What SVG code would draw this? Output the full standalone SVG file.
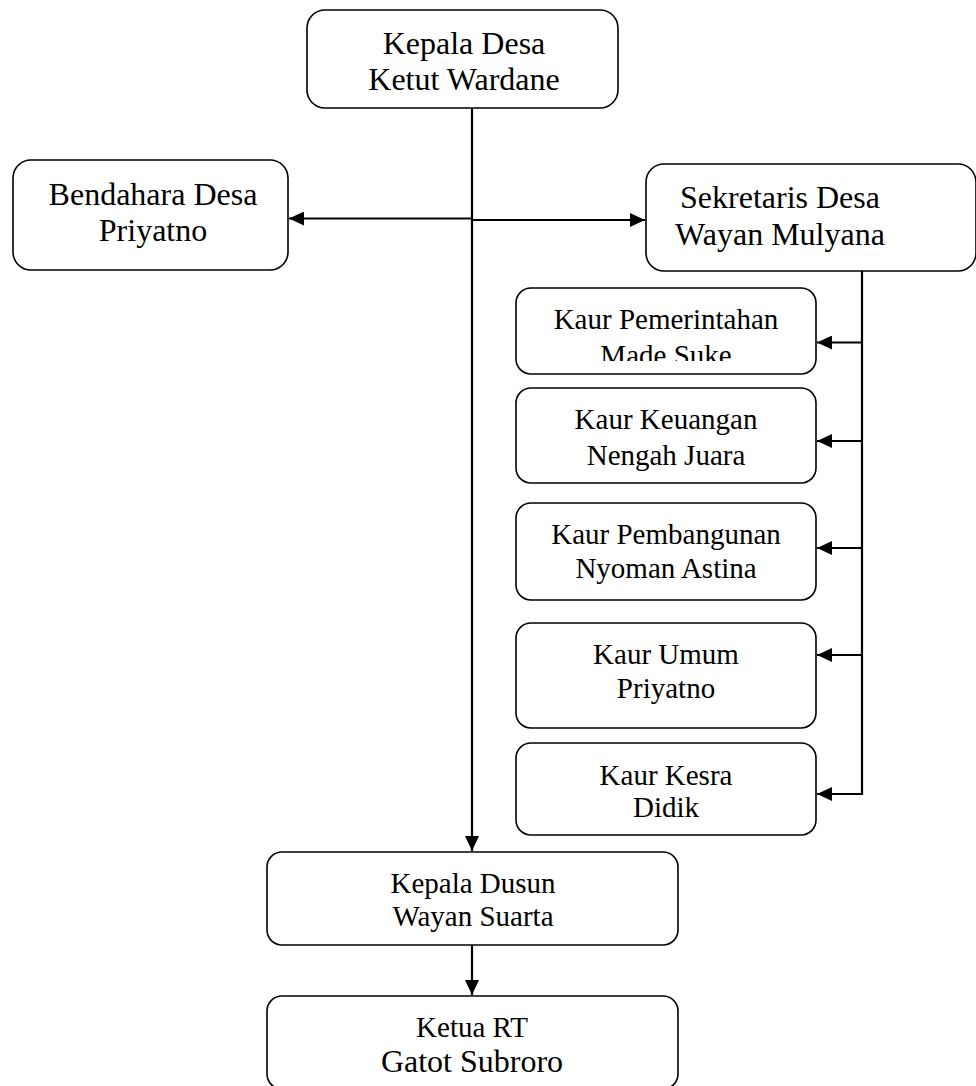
<svg xmlns="http://www.w3.org/2000/svg" width="976" height="1086" viewBox="0 0 976 1086">
<style>
.box{fill:#fff;stroke:#000;stroke-width:1.6}
.t{font-family:"Liberation Serif","Times New Roman",serif;fill:#000;text-anchor:middle}
.l{font-size:32px}
.s{font-size:29px}
.c{fill:none;stroke:#000;stroke-width:2.2}
</style>
<defs>
<marker id="ah" markerUnits="userSpaceOnUse" markerWidth="16" markerHeight="14" refX="15" refY="7" orient="auto">
<path d="M0,0 L15,7 L0,14 Z" fill="#000"/>
</marker>
<clipPath id="clipPem"><rect x="516" y="288" width="300" height="73"/></clipPath>
</defs>
<rect width="976" height="1086" fill="#fff"/>

<g id="connectors">
<path class="c" d="M472,108 V851" marker-end="url(#ah)"/>
<path class="c" d="M472,218.5 H289" marker-end="url(#ah)"/>
<path class="c" d="M472,220 H645" marker-end="url(#ah)"/>
<path class="c" d="M862,271 V795"/>
<path class="c" d="M862,342.5 H817" marker-end="url(#ah)"/>
<path class="c" d="M862,441 H817" marker-end="url(#ah)"/>
<path class="c" d="M862,548 H817" marker-end="url(#ah)"/>
<path class="c" d="M862,655 H817" marker-end="url(#ah)"/>
<path class="c" d="M862,794 H817" marker-end="url(#ah)"/>
<path class="c" d="M472,945 V995" marker-end="url(#ah)"/>
</g>

<g id="kepala-desa">
<rect class="box" x="307" y="10" width="311" height="98" rx="18"/>
<text class="t l" x="464" y="54">Kepala Desa</text>
<text class="t l" x="464" y="90">Ketut Wardane</text>
</g>

<g id="bendahara">
<rect class="box" x="13" y="160" width="275" height="110" rx="18"/>
<text class="t l" x="153" y="205">Bendahara Desa</text>
<text class="t l" x="153" y="241">Priyatno</text>
</g>

<g id="sekretaris">
<rect class="box" x="646" y="164" width="330" height="107" rx="18"/>
<text class="t l" x="780" y="208">Sekretaris Desa</text>
<text class="t l" x="780" y="245">Wayan Mulyana</text>
</g>

<g id="kaur-pemerintahan">
<rect class="box" x="516" y="288" width="300" height="86" rx="15"/>
<g clip-path="url(#clipPem)">
<text class="t s" x="666" y="329">Kaur Pemerintahan</text>
<text class="t s" x="666" y="365">Made Suke</text>
</g>
</g>

<g id="kaur-keuangan">
<rect class="box" x="516" y="388" width="300" height="95" rx="15"/>
<text class="t s" x="666" y="429">Kaur Keuangan</text>
<text class="t s" x="666" y="465">Nengah Juara</text>
</g>

<g id="kaur-pembangunan">
<rect class="box" x="516" y="503" width="300" height="97" rx="15"/>
<text class="t s" x="666" y="544">Kaur Pembangunan</text>
<text class="t s" x="666" y="578">Nyoman Astina</text>
</g>

<g id="kaur-umum">
<rect class="box" x="516" y="623" width="300" height="105" rx="15"/>
<text class="t s" x="666" y="664">Kaur Umum</text>
<text class="t s" x="666" y="698">Priyatno</text>
</g>

<g id="kaur-kesra">
<rect class="box" x="516" y="743" width="300" height="92" rx="15"/>
<text class="t s" x="666" y="785">Kaur Kesra</text>
<text class="t s" x="666" y="817">Didik</text>
</g>

<g id="kepala-dusun">
<rect class="box" x="267" y="852" width="411" height="93" rx="15"/>
<text class="t s" x="473" y="893">Kepala Dusun</text>
<text class="t s" x="473" y="926">Wayan Suarta</text>
</g>

<g id="ketua-rt">
<rect class="box" x="267" y="996" width="411" height="93" rx="15"/>
<text class="t s" x="472" y="1037">Ketua RT</text>
<text class="t l" x="472" y="1072">Gatot Subroro</text>
</g>
</svg>
